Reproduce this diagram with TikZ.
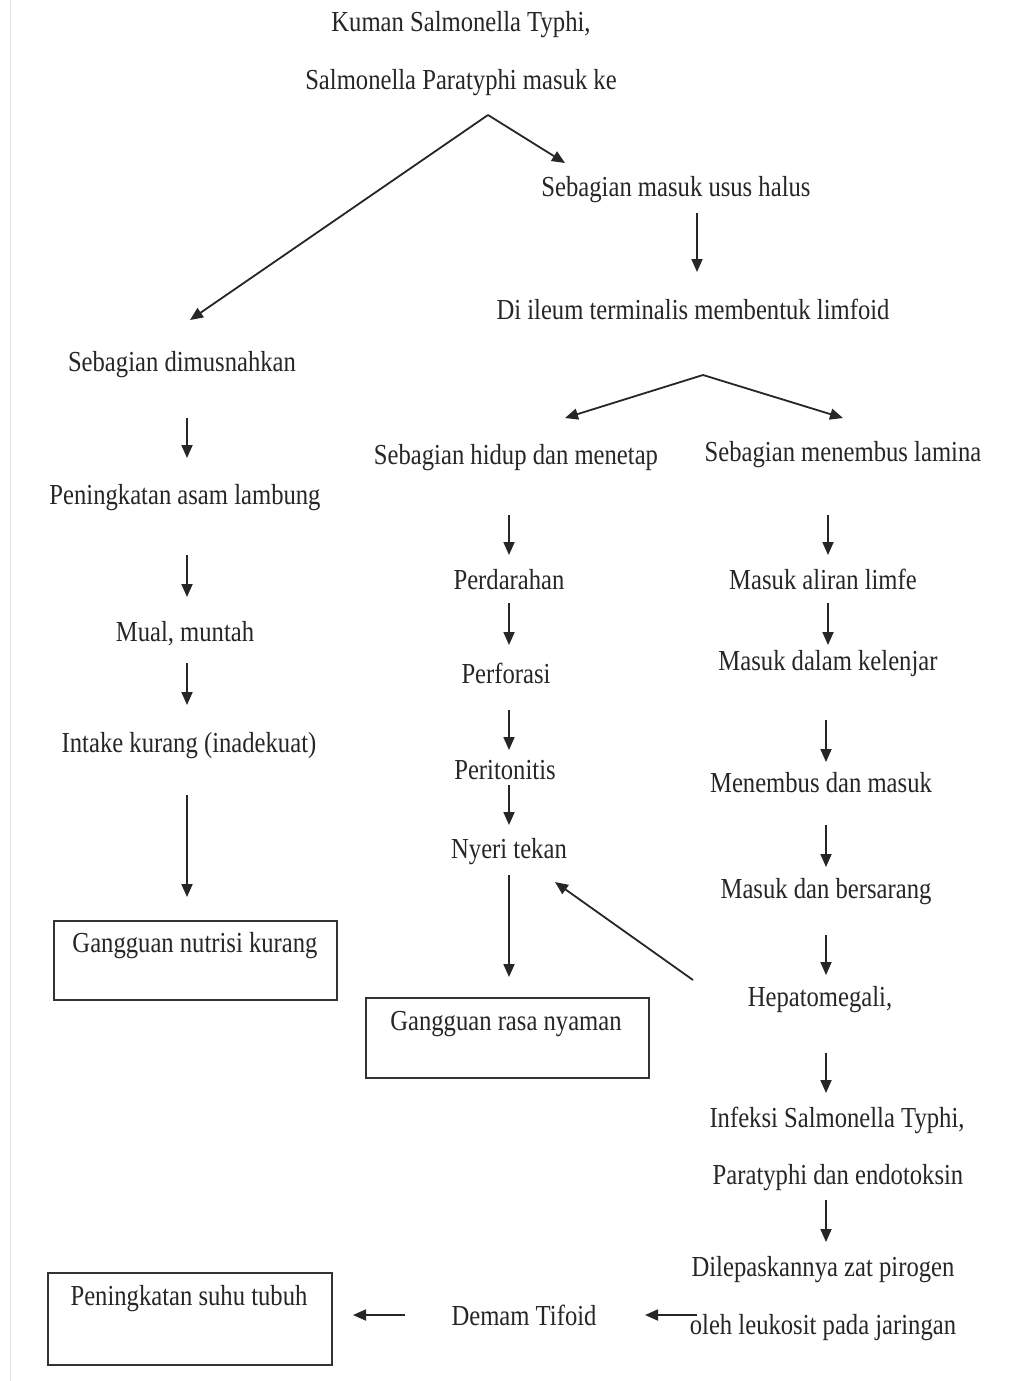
\documentclass[tikz,border=0pt]{standalone}
\usepackage{fontspec}
\setmainfont[FakeStretch=0.85]{Liberation Serif}
\usetikzlibrary{arrows.meta}
\begin{document}
\begin{tikzpicture}[x=0.5pt,y=-0.5pt,
  txt/.style={inner sep=0pt, text=black!85, font=\fontsize{14.5}{16}\selectfont, anchor=center, yshift=-1.2pt},
  arr/.style={-{Triangle[length=6.5pt,width=5.5pt]}, line width=0.9pt, draw=black!85},
  box/.style={draw=black!80, line width=1pt}]
\useasboundingbox (0,0) rectangle (1008,1381);
\fill[white] (0,0) rectangle (1008,1381);
\draw[black!10, line width=0.5pt] (10,0) -- (10,1381);

% ---------- texts ----------
\node[txt] (kuman1) at (461,22) {Kuman Salmonella Typhi,};
\node[txt] (kuman2) at (461,80) {Salmonella Paratyphi masuk ke};
\node[txt] (usus) at (676,187) {Sebagian masuk usus halus};
\node[txt] (ileum) at (693,307) {Di ileum terminalis membentuk limfoid};
\node[txt] (musnah) at (182,362) {Sebagian dimusnahkan};
\node[txt] (hidup) at (516,455) {Sebagian hidup dan menetap};
\node[txt] (lamina) at (843,452) {Sebagian menembus lamina};
% left column
\node[txt] (asam) at (185,495) {Peningkatan asam lambung};
\node[txt] (mual) at (185,631) {Mual, muntah};
\node[txt] (intake) at (189,743) {Intake kurang (inadekuat)};
\draw[box] (54,921) rectangle (337,1000);
\node[txt] (nutrisi) at (195,943) {Gangguan nutrisi kurang};
% middle column
\node[txt] (darah) at (509,577) {Perdarahan};
\node[txt] (perforasi) at (506,671) {Perforasi};
\node[txt] (peritonitis) at (505,768) {Peritonitis};
\node[txt] (nyeri) at (509,849) {Nyeri tekan};
\draw[box] (366,998) rectangle (649,1078);
\node[txt] (nyaman) at (506,1022) {Gangguan rasa nyaman};
% right column
\node[txt] (limfe) at (823,577) {Masuk aliran limfe};
\node[txt] (kelenjar) at (828,661) {Masuk dalam kelenjar};
\node[txt] (menembus) at (821,780) {Menembus dan masuk};
\node[txt] (bersarang) at (826,889) {Masuk dan bersarang};
\node[txt] (hepato) at (820,997) {Hepatomegali,};
\node[txt] (infeksi1) at (837,1118) {Infeksi Salmonella Typhi,};
\node[txt] (infeksi2) at (838,1175) {Paratyphi dan endotoksin};
\node[txt] (pirogen1) at (823,1267) {Dilepaskannya zat pirogen};
\node[txt] (pirogen2) at (823,1325) {oleh leukosit pada jaringan};
% bottom
\node[txt] (demam) at (524,1313) {Demam Tifoid};
\draw[box] (48,1273) rectangle (332,1365);
\node[txt] (suhu) at (189,1296) {Peningkatan suhu tubuh};

% ---------- connector end points ----------
\coordinate (s1) at (488,115);
\coordinate (s1l) at (190,320);
\coordinate (s1r) at (565,163);
\coordinate (u1) at (697,213);  \coordinate (u2) at (697,272);
\coordinate (s2) at (703,375);
\coordinate (s2l) at (565,418); \coordinate (s2r) at (843,418);
\coordinate (l1a) at (187,418); \coordinate (l1b) at (187,458);
\coordinate (l2a) at (187,555); \coordinate (l2b) at (187,597);
\coordinate (l3a) at (187,663); \coordinate (l3b) at (187,705);
\coordinate (l4a) at (187,795); \coordinate (l4b) at (187,897);
\coordinate (m1a) at (509,515); \coordinate (m1b) at (509,555);
\coordinate (m2a) at (509,603); \coordinate (m2b) at (509,645);
\coordinate (m3a) at (509,710); \coordinate (m3b) at (509,750);
\coordinate (m4a) at (509,785); \coordinate (m4b) at (509,825);
\coordinate (m5a) at (509,875); \coordinate (m5b) at (509,977);
\coordinate (da) at (693,980);  \coordinate (db) at (555,882);
\coordinate (r1a) at (828,515); \coordinate (r1b) at (828,555);
\coordinate (r2a) at (828,603); \coordinate (r2b) at (828,645);
\coordinate (r3a) at (826,720); \coordinate (r3b) at (826,762);
\coordinate (r4a) at (826,825); \coordinate (r4b) at (826,867);
\coordinate (r5a) at (826,935); \coordinate (r5b) at (826,975);
\coordinate (r6a) at (826,1053); \coordinate (r6b) at (826,1093);
\coordinate (r7a) at (826,1200); \coordinate (r7b) at (826,1242);
\coordinate (b1a) at (697,1315); \coordinate (b1b) at (645,1315);
\coordinate (b2a) at (405,1315); \coordinate (b2b) at (353,1315);

% ---------- connectors ----------
\draw[arr] (s1) -- (s1l);
\draw[arr] (s1) -- (s1r);
\draw[arr] (u1) -- (u2);
\draw[arr] (s2) -- (s2l);
\draw[arr] (s2) -- (s2r);
\foreach \a/\b in {l1a/l1b,l2a/l2b,l3a/l3b,l4a/l4b,
                   m1a/m1b,m2a/m2b,m3a/m3b,m4a/m4b,m5a/m5b,
                   r1a/r1b,r2a/r2b,r3a/r3b,r4a/r4b,r5a/r5b,r6a/r6b,r7a/r7b,
                   da/db,b1a/b1b,b2a/b2b}
  \draw[arr] (\a) -- (\b);
\end{tikzpicture}
\end{document}
